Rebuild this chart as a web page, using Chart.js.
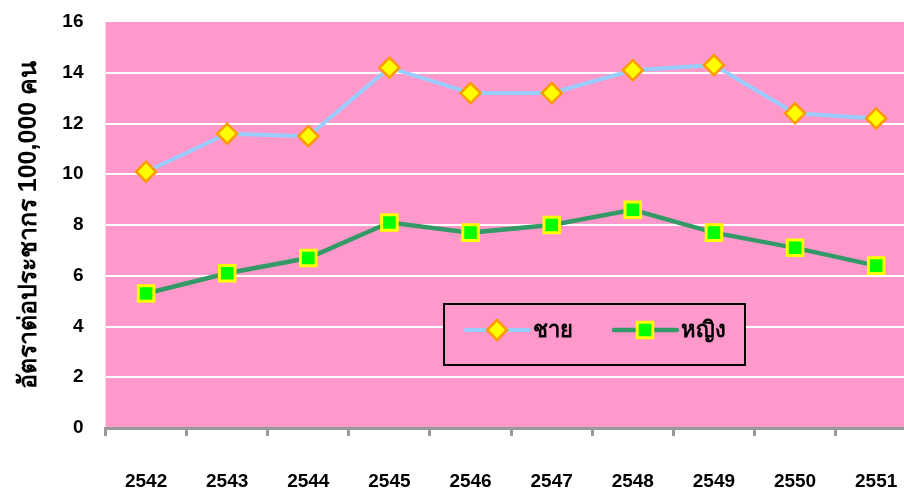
<!DOCTYPE html>
<html>
<head>
<meta charset="utf-8">
<script src="https://cdn.jsdelivr.net/npm/chart.js@4/dist/chart.umd.min.js"></script>
<style>
  html, body { margin: 0; padding: 0; background: #fff; overflow: hidden; }
  #wrap { width: 932px; height: 491px; }
</style>
</head>
<body>
<div id="wrap"><canvas id="chart" width="932" height="491"></canvas></div>
<script>
// data
var years = ["2542", "2543", "2544", "2545", "2546", "2547", "2548", "2549", "2550", "2551"];
var male = [10.1, 11.6, 11.5, 14.2, 13.2, 13.2, 14.1, 14.3, 12.4, 12.2];
var female = [5.3, 6.1, 6.7, 8.1, 7.7, 8.0, 8.6, 7.7, 7.1, 6.4];
var seriesNames = ["ชาย", "หญิง"];
var yTitle = "อัตราต่อประชากร 100,000 คน";

var font = "'Liberation Sans', Arial, sans-serif";

var pinkBg = {
  id: "pinkBg",
  beforeDraw: function (chart) {
    var a = chart.chartArea, ctx = chart.ctx;
    ctx.save();
    ctx.fillStyle = "#ff99cc";
    ctx.fillRect(a.left, a.top, a.right - a.left, a.bottom - a.top);
    ctx.restore();
  }
};

// boxed legend inside the plot, like the original
var boxLegend = {
  id: "boxLegend",
  afterDraw: function (chart) {
    var ctx = chart.ctx;
    ctx.save();
    ctx.fillStyle = "#ff99cc";
    ctx.fillRect(444, 304, 301, 61);
    ctx.strokeStyle = "#000";
    ctx.lineWidth = 2;
    ctx.strokeRect(444, 304, 301, 61);
    var items = [{ x: 466, ds: 0 }, { x: 614, ds: 1 }];
    items.forEach(function (it) {
      var d = chart.data.datasets[it.ds];
      var y = 330;
      ctx.strokeStyle = d.borderColor;
      ctx.lineWidth = d.borderWidth;
      ctx.lineCap = "round";
      ctx.beginPath();
      ctx.moveTo(it.x, y);
      ctx.lineTo(it.x + 63, y);
      ctx.stroke();
      ctx.fillStyle = d.pointBackgroundColor;
      ctx.strokeStyle = d.pointBorderColor;
      ctx.lineWidth = d.pointBorderWidth;
      Chart.helpers.drawPoint(ctx, { pointStyle: d.pointStyle, radius: d.pointRadius, rotation: 0, borderWidth: d.pointBorderWidth }, it.x + 31, y);
      ctx.fillStyle = "#000";
      ctx.font = "bold 22px " + font;
      ctx.textBaseline = "middle";
      ctx.textAlign = "left";
      ctx.fillText(d.label, it.x + 67, y + 1);
    });
    ctx.restore();
  }
};

new Chart(document.getElementById("chart"), {
  type: "line",
  data: {
    labels: years,
    datasets: [
      {
        label: seriesNames[0],
        data: male,
        borderColor: "#99ccff",
        borderWidth: 4,
        pointStyle: "rectRot",
        pointRadius: 10,
        pointBackgroundColor: "#ffff00",
        pointBorderColor: "#ff9900",
        pointBorderWidth: 2.5,
        tension: 0
      },
      {
        label: seriesNames[1],
        data: female,
        borderColor: "#339966",
        borderWidth: 4.5,
        pointStyle: "rect",
        pointRadius: 11,
        pointBackgroundColor: "#00ff00",
        pointBorderColor: "#ffff00",
        pointBorderWidth: 3,
        tension: 0
      }
    ]
  },
  options: {
    responsive: false,
    animation: false,
    layout: { padding: { top: 22, right: 0, bottom: 0, left: 0 } },
    plugins: { legend: { display: false }, tooltip: { enabled: false } },
    scales: {
      x: {
        offset: true,
        grid: { offset: true, drawOnChartArea: false, color: "#999999", lineWidth: 3, tickLength: 8 },
        border: { display: true, color: "#999999", width: 3 },
        ticks: { color: "#000", padding: 34, maxRotation: 0, font: { family: font, size: 19, weight: "bold" } },
        afterFit: function (s) { s.height = 63; s.paddingTop = 0; s.paddingBottom = 0; }
      },
      y: {
        min: 0,
        max: 16,
        ticks: { stepSize: 2, color: "#000", padding: 22, font: { family: font, size: 19, weight: "bold" } },
        grid: {
          color: function (c) { return c.tick && c.tick.value === 16 ? "rgba(0,0,0,0)" : "#ffffff"; },
          lineWidth: 2,
          drawTicks: false
        },
        border: { display: false },
        title: {
          display: true,
          text: yTitle,
          color: "#000",
          padding: { top: 14, bottom: 0 },
          font: { family: font, size: 25, weight: "bold" }
        },
        afterFit: function (s) { s.width = 105.5; s.paddingTop = 0; s.paddingBottom = 0; }
      }
    }
  },
  plugins: [pinkBg, boxLegend]
});
</script>
</body>
</html>
